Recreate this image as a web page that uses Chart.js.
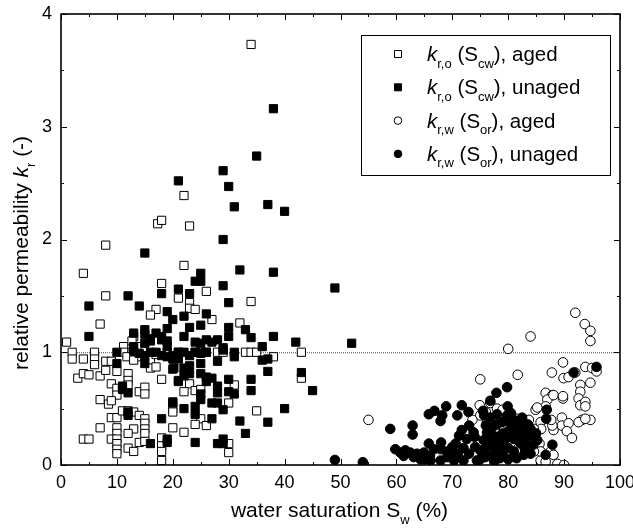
<!DOCTYPE html>
<html>
<head>
<meta charset="utf-8">
<script src="https://cdn.jsdelivr.net/npm/chart.js@4.4.1/dist/chart.umd.min.js"></script>
<style>
  html, body { margin: 0; padding: 0; background: #fff; }
  canvas { display: block; }
</style>
</head>
<body>
<canvas id="chart" width="633" height="531"></canvas>
<script>
// k_r,o (S_cw), aged - open squares  [Sw %, kr]
const kroAged = [
  [34,3.73],[22,2.39],[17.3,2.14],[18,2.17],[23,2.12],[8,1.95],[22,1.77],[4,1.70],[18,1.61],[8,1.50],
  [21,1.48],[26,1.54],[34,1.45],[23,1.44],[23,1.39],[24,1.38],[17,1.38],[16,1.33],[7,1.25],[27,1.29],
  [32,1.26],[1,1.09],[13,1.14],[11.2,1.05],[2,1.0],[2,0.94],[4,0.94],[6,1.0],[6,0.94],[6,0.89],
  [3,0.77],[4,0.81],[5,0.80],[7,0.79],[8,0.84],[8,0.92],[9,0.92],[10,0.83],[9,0.72],[10,0.68],
  [10,0.62],[12,0.81],[12,0.75],[12,0.71],[14,0.65],[15,0.69],[15,0.63],[7,0.58],[8.5,0.54],[9,0.57],
  [9,0.42],[10,0.42],[11,0.48],[12,0.48],[13,0.47],[14,0.44],[7,0.33],[10,0.33],[10,0.28],[15,0.41],
  [15,0.37],[15,0.32],[15,0.28],[13,0.32],[12,0.28],[4,0.23],[5,0.23],[9,0.23],[10,0.23],[10,0.19],
  [10,0.14],[10,0.1],[12,0.15],[13,0.12],[14,0.2],[15,0.21],[18,0.24],[18,0.17],[18,0.12],[18,0.04],
  [16,0.93],[16,0.86],[17,0.98],[18,0.76],[12.7,1.1],[13.6,1.05],[12.7,1.0],[13.6,0.96],[11.2,1.0],[11.8,0.96],
  [20,0.5],[20,0.33],[21,1.0],[24,1.0],[25,1.0],[26,1.0],[28,1.0],[29,1.0],[33,1.0],[34,1.0],
  [35,1.0],[43,1.0],[38,0.96],[43,0.77],[23,0.72],[22,0.65],[24,0.66],[31,0.71],[30,0.55],[35,0.48],
  [20,0.47],[25,0.41],[24,0.36],[26,0.35],[22,0.29],[30,0.19],[30,0.11],[19,1.0],[25,0.67],[17,0.87],
  [13,0.93]
];

// k_r,o (S_cw), unaged - filled squares
const kroUnaged = [
  [38,3.16],[35,2.74],[29,2.61],[21,2.52],[30,2.47],[31,2.29],[37,2.31],[40,2.25],[29,2.0],[15,1.88],
  [32,1.73],[38,1.71],[25,1.70],[24,1.63],[25,1.63],[29,1.59],[49,1.57],[21,1.56],[23,1.52],[18,1.52],
  [12,1.50],[30,1.44],[5,1.41],[14,1.41],[19,1.36],[20,1.29],[22,1.32],[26,1.34],[25,1.24],[23,1.22],
  [30,1.22],[33,1.20],[15,1.20],[19,1.21],[13,1.17],[5,1.14],[17,1.17],[18,1.14],[22,1.14],[30,1.14],
  [34,1.13],[38,1.14],[16,1.12],[26,1.11],[27,1.09],[28,1.11],[24,1.09],[25,1.08],[42,1.09],[52,1.08],
  [36,1.05],[29,1.04],[10,1.0],[14,0.99],[15,0.97],[17,1.0],[18,0.97],[19,0.96],[20,0.97],[21,0.98],
  [22,1.0],[23,0.97],[20,0.94],[21,0.94],[10,0.9],[15,0.9],[23,0.88],[25,0.9],[31,0.96],[37,0.94],
  [28,0.92],[20,0.85],[23,0.81],[25,0.81],[26,0.78],[37,0.83],[43,0.82],[34,0.76],[30,0.76],[21,0.75],
  [27,0.77],[26,0.74],[28,0.7],[11,0.7],[12,0.64],[28,0.64],[34,0.66],[30,0.65],[31,0.63],[45,0.66],
  [25,0.63],[25,0.58],[20,0.56],[27,0.55],[28,0.55],[22,0.5],[24,0.52],[29,0.49],[40,0.5],[24,0.45],
  [12,0.47],[18,0.41],[27,0.41],[32,0.39],[37,0.38],[33,0.28],[19,0.2],[16,0.19],[24,0.2],[28,0.19],
  [29,0.23],[29,0.19],[19,0.23],[15,1.16],[15,1.08],[16,1.1],[18,1.11],[19,1.1],[19,1.05],[13,1.05],
  [24,1.0],[25,0.99],[26,1.0],[29,1.02],[31,1.0],[21,1.0],[22,0.86],[22,0.79],[21,0.74],[36,0.93],
  [20.2,0.86],[11,0.67],[12,0.44],[20,0.55],[16,1.0],[13,1.01]
];

// k_r,w (S_or), aged - open circles
const krwAged = [
  [92,1.35],[93.7,1.25],[94.7,1.19],[94.7,1.10],[84,1.14],[80,1.03],[55,0.40],[75,0.76],[81.7,0.80],[87.8,0.82],
  [89.8,0.91],[89.9,0.77],[90.8,0.78],[92,0.82],[93.8,0.87],[95,0.86],[95.8,0.83],[94.7,0.73],[92.9,0.71],[92.9,0.65],
  [92.6,0.59],[92.9,0.53],[93.8,0.56],[93.8,0.52],[86.7,0.64],[87.9,0.62],[87,0.58],[86.7,0.52],[89.8,0.59],[84.9,0.49],
  [93.2,0.40],[94.7,0.40],[89.6,0.42],[89.6,0.35],[90.8,0.37],[90.5,0.30],[88.1,0.31],[87.9,0.35],[87.7,0.40],[85.8,0.38],
  [85.9,0.32],[85.6,0.19],[84.6,0.32],[84.6,0.23],[83.7,0.40],[85.8,0.04],[87.6,0.03],[88.8,0.01],[90,0.0],[86.7,0.03],
  [85.8,0.12],[84.6,0.12],[87.6,0.12],[88.1,0.09],[91.4,0.24],[92.6,0.38],[93.8,0.41],[74.9,0.53],[75,0.44],[76.8,0.55],
  [78,0.50],[76.2,0.38],[73.6,0.40],[79,0.49],[80,0.35],[82,0.38],[81.7,0.41],[79.8,0.10],[80.5,0.2],[83,0.3],
  [78,0.28],[76,0.47],[85.2,0.51],[88.1,0.62],[89.8,0.61]
];

// k_r,w (S_or), unaged - filled circles
const krwUnaged = [
  [95.8,0.87],[91.7,0.82],[49,0.045],[54,0.025],[86.9,0.49],[86.8,0.41],[86.7,0.09],[87.9,0.18],[82.8,0.09],[79.8,0.69],
  [77.9,0.64],[76.8,0.57],[79.9,0.52],[71.7,0.53],[68.9,0.52],[65.8,0.45],[66.8,0.48],[67.9,0.39],[68.2,0.44],[70.9,0.44],
  [72.9,0.47],[75.5,0.48],[75.7,0.44],[76.8,0.42],[78,0.45],[79.8,0.44],[58.9,0.32],[62.9,0.35],[62.9,0.27],[59.8,0.14],
  [61.6,0.13],[62.5,0.11],[63.7,0.1],[64.9,0.11],[65.8,0.19],[66.7,0.14],[67.9,0.14],[69.1,0.07],[70,0.16],[70.6,0.19],
  [71.2,0.26],[71.7,0.31],[72.6,0.23],[73.8,0.29],[74.1,0.16],[75,0.13],[75.6,0.22],[76.2,0.29],[77.1,0.33],[78,0.36],
  [78.9,0.38],[79.8,0.39],[80.7,0.36],[81.6,0.32],[82.8,0.31],[83.4,0.26],[84.3,0.26],[85.2,0.22],[82.2,0.19],[81,0.23],
  [79.5,0.23],[78,0.25],[77.4,0.16],[76.8,0.08],[75.9,0.07],[74.4,0.04],[72,0.04],[70.3,0.04],[67.9,0.04],[66.1,0.04],
  [64.3,0.05],[63.1,0.07],[61.3,0.08],[60.7,0.11],[80,0.30],[81,0.28],[80.5,0.26],[79,0.28],[82,0.25],[83,0.2],
  [84,0.32],[81,0.12],[80,0.15],[79,0.1],[78,0.1],[77,0.2],[76,0.15],[83,0.14],[84,0.1],[80,0.05],
  [82,0.35],[81,0.4],[78.5,0.18],[77,0.27],[74,0.25],[73,0.1],[72,0.15],[71,0.1],[69,0.12],[68,0.2],
  [66,0.08],[65,0.05],[70,0.1],[75,0.05],[76,0.35],[73,0.35],[84.5,0.18],[85,0.28],[83.5,0.36],[82.5,0.42],
  [80.5,0.46],[78.5,0.06],[81.5,0.06],[77.5,0.03]
];

const xMajor = [0, 10, 20, 30, 40, 50, 60, 70, 80, 90, 100];
const yMajor = [0, 1, 2, 3, 4];
const refLine = 1;

const FONT = '"Liberation Sans", Arial, sans-serif';

const toPts = arr => arr.map(p => ({ x: p[0], y: p[1] }));

// draws a line of text with italic / subscript pieces
function richText(ctx, parts, x, y, size, align) {
  const fontFor = k => (k === 'i' ? 'italic ' : '') + (k === 's' ? Math.round(size * 0.62) : size) + 'px ' + FONT;
  let w = 0;
  parts.forEach(([t, k]) => { ctx.font = fontFor(k); w += ctx.measureText(t).width; });
  let cx = align === 'center' ? x - w / 2 : x;
  ctx.textAlign = 'left';
  ctx.textBaseline = 'alphabetic';
  parts.forEach(([t, k]) => {
    ctx.font = fontFor(k);
    ctx.fillText(t, cx, k === 's' ? y + size * 0.32 : y);
    cx += ctx.measureText(t).width;
  });
}

const legendItems = [
  { style: 'rect', fill: '#fff', parts: [['k', 'i'], ['r,o', 's'], [' (S', ''], ['cw', 's'], ['), aged', '']] },
  { style: 'rect', fill: '#000', parts: [['k', 'i'], ['r,o', 's'], [' (S', ''], ['cw', 's'], ['), unaged', '']] },
  { style: 'circle', fill: '#fff', parts: [['k', 'i'], ['r,w', 's'], [' (S', ''], ['or', 's'], ['), aged', '']] },
  { style: 'circle', fill: '#000', parts: [['k', 'i'], ['r,w', 's'], [' (S', ''], ['or', 's'], ['), unaged', '']] }
];

const decor = {
  id: 'decor',
  beforeDatasetsDraw(chart) {
    const { ctx, chartArea: a, scales: { y } } = chart;
    const py = y.getPixelForValue(refLine);
    ctx.save();
    ctx.strokeStyle = '#444';
    ctx.lineWidth = 1;
    ctx.setLineDash([1, 1]);
    ctx.beginPath();
    ctx.moveTo(a.left, py + 0.5);
    ctx.lineTo(a.right, py + 0.5);
    ctx.stroke();
    ctx.restore();
  },
  afterDraw(chart) {
    const { ctx, chartArea: a, scales: { x, y } } = chart;
    ctx.save();
    ctx.strokeStyle = '#000';
    ctx.fillStyle = '#000';

    // ticks on all four sides, pointing inwards
    ctx.lineWidth = 1;
    ctx.beginPath();
    for (let v = 0; v <= 100; v += 5) {
      const px = Math.round(x.getPixelForValue(v)) + 0.5;
      const len = v % 10 === 0 ? 6 : 3;
      ctx.moveTo(px, a.bottom); ctx.lineTo(px, a.bottom - len);
      ctx.moveTo(px, a.top); ctx.lineTo(px, a.top + len);
    }
    for (let v = 0; v <= 4; v += 0.5) {
      const py = Math.round(y.getPixelForValue(v)) + 0.5;
      const len = v % 1 === 0 ? 6 : 3;
      ctx.moveTo(a.left, py); ctx.lineTo(a.left + len, py);
      ctx.moveTo(a.right, py); ctx.lineTo(a.right - len, py);
    }
    ctx.stroke();

    // frame
    ctx.lineWidth = 1.6;
    ctx.strokeRect(a.left, a.top, a.right - a.left, a.bottom - a.top);

    // axis titles
    richText(ctx, [['water saturation S', ''], ['w', 's'], [' (%)', '']], (a.left + a.right) / 2 - 1, 517, 21, 'center');
    ctx.save();
    ctx.translate(28, 253);
    ctx.rotate(-Math.PI / 2);
    richText(ctx, [['relative permeability ', ''], ['k', 'i'], ['r', 's'], [' (-)', '']], 0, 0, 21, 'center');
    ctx.restore();

    // legend
    const bx = 361, by = 35, bw = 249, bh = 140;
    ctx.fillStyle = '#fff';
    ctx.fillRect(bx, by, bw, bh);
    ctx.lineWidth = 1;
    ctx.strokeStyle = '#000';
    ctx.strokeRect(bx + 0.5, by + 0.5, bw, bh);
    legendItems.forEach((it, i) => {
      const cy = 54 + i * 33.3;
      ctx.fillStyle = it.fill;
      ctx.beginPath();
      if (it.style === 'rect') ctx.rect(394.5, cy - 3.5, 7, 7);
      else ctx.arc(398, cy, 3.8, 0, Math.PI * 2);
      ctx.fill();
      ctx.stroke();
      ctx.fillStyle = '#000';
      richText(ctx, it.parts, 427, cy + 7, 20.5, 'left');
    });
    ctx.restore();
  }
};

const base = { borderColor: '#000', borderWidth: 1, pointHoverRadius: 5, showLine: false };

new Chart(document.getElementById('chart'), {
  type: 'scatter',
  data: {
    datasets: [
      { ...base, label: 'k_r,w (S_or), unaged', data: toPts(krwUnaged), pointStyle: 'circle', pointRadius: 4.8, backgroundColor: '#000', order: 1 },
      { ...base, label: 'k_r,w (S_or), aged', data: toPts(krwAged), pointStyle: 'circle', pointRadius: 4.8, backgroundColor: '#fff', order: 2 },
      { ...base, label: 'k_r,o (S_cw), unaged', data: toPts(kroUnaged), pointStyle: 'rect', pointRadius: 5.8, backgroundColor: '#000', order: 3 },
      { ...base, label: 'k_r,o (S_cw), aged', data: toPts(kroAged), pointStyle: 'rect', pointRadius: 5.8, backgroundColor: '#fff', order: 4 }
    ]
  },
  options: {
    responsive: false,
    animation: false,
    devicePixelRatio: 1,
    layout: { padding: { left: 0, top: 14, right: 13, bottom: 0 } },
    plugins: { legend: { display: false }, tooltip: { enabled: false } },
    scales: {
      x: {
        type: 'linear', min: 0, max: 100,
        grid: { display: false, drawTicks: false },
        border: { display: false },
        ticks: {
          stepSize: 10, padding: 7, color: '#000', font: { family: FONT, size: 18 },
          callback: v => xMajor.includes(v) ? String(v) : ''
        },
        afterFit(s) { s.height = 66; s.paddingLeft = 0; s.paddingRight = 0; }
      },
      y: {
        type: 'linear', min: 0, max: 4,
        grid: { display: false, drawTicks: false },
        border: { display: false },
        ticks: {
          stepSize: 1, padding: 9, color: '#000', font: { family: FONT, size: 18 },
          callback: v => yMajor.includes(v) ? String(v) : ''
        },
        afterFit(s) { s.width = 61; s.paddingTop = 0; s.paddingBottom = 0; }
      }
    }
  },
  plugins: [decor]
});
</script>
</body>
</html>
